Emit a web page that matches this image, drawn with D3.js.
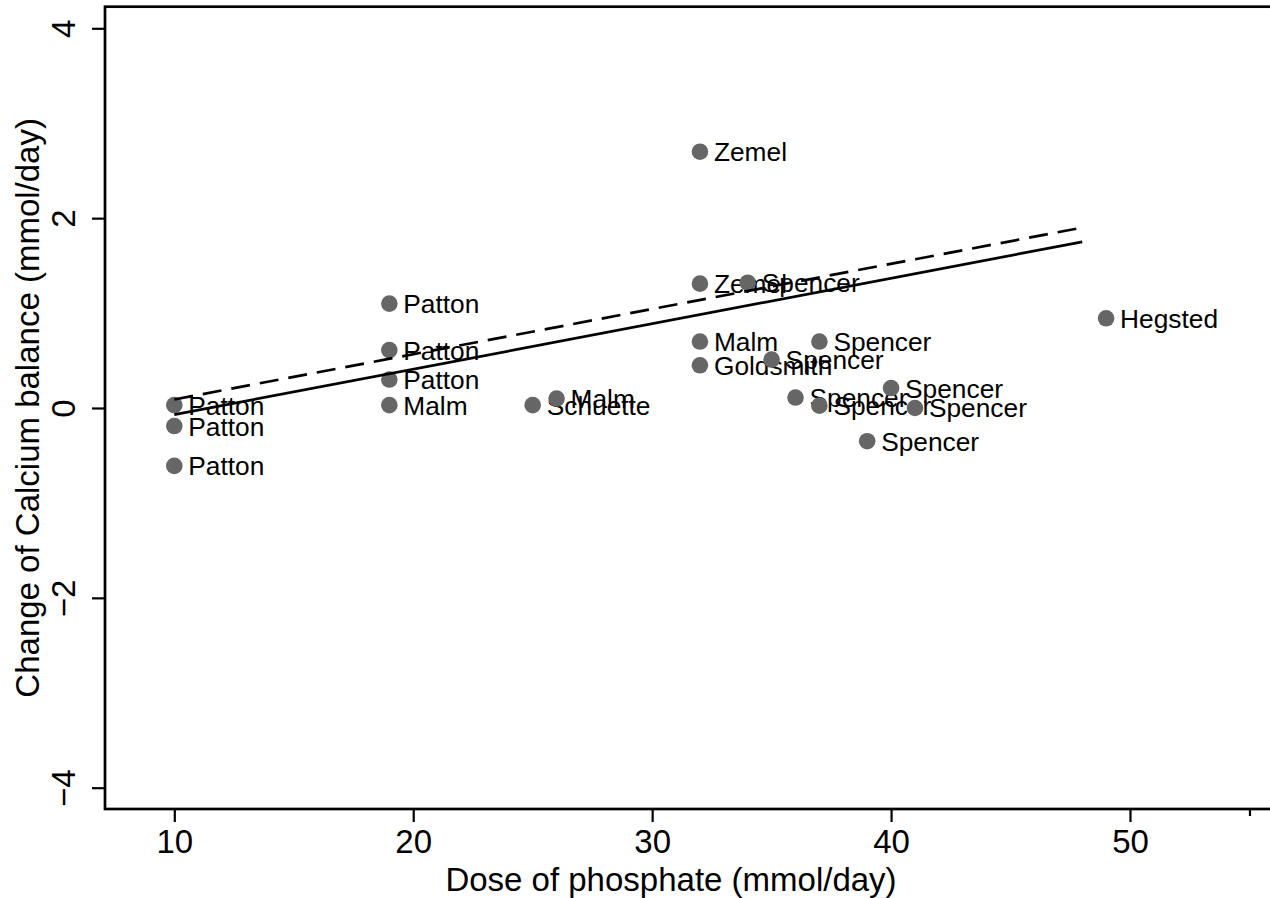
<!DOCTYPE html>
<html>
<head>
<meta charset="utf-8">
<script src="https://cdn.jsdelivr.net/npm/d3@7"></script>
<style>
  html, body { margin: 0; padding: 0; background: #fff; }
  svg { display: block; }
  text { font-family: "Liberation Sans", Arial, Helvetica, sans-serif; fill: #000; }
</style>
</head>
<body>
<svg id="chart" width="1270" height="898"></svg>
<script>
// ---- data ----
const dose   = [10, 10, 10, 19, 19, 19, 19, 25, 26, 32, 32, 32, 32, 34, 35, 36, 37, 37, 39, 40, 41, 49];
const change = [0.03, -0.19, -0.61, 1.10, 0.61, 0.30, 0.03, 0.03, 0.10, 2.70, 1.31, 0.70, 0.45, 1.32, 0.51, 0.11, 0.70, 0.025, -0.35, 0.21, 0.0, 0.945];
const study  = ["Patton", "Patton", "Patton", "Patton", "Patton", "Patton", "Malm", "Schuette", "Malm",
                "Zemel", "Zemel", "Malm", "Goldsmith", "Spencer", "Spencer", "Spencer", "Spencer", "Spencer",
                "Spencer", "Spencer", "Spencer", "Hegsted"];
const fitX       = [10, 48];
const fitSolid   = [-0.07, 1.75];
const fitDashed  = [0.09, 1.90];
const xTicks     = [10, 20, 30, 40, 50];
const xMinorTick = [55];
const yTicks     = [-4, -2, 0, 2, 4];

// ---- layout ----
const svg = d3.select("#chart");
const frame = { left: 105, top: 6.7, right: 1275, bottom: 809 };
const x = d3.scaleLinear().domain([10, 50]).range([174.3, 1130]);
const y = d3.scaleLinear().domain([-4, 4]).range([787.7, 28.3]);

const axisFont = 33, labelFont = 26.3;

// points + labels
const pts = dose.map((d, i) => ({ x: d, y: change[i], s: study[i] }));
const g = svg.append("g");
pts.forEach(p => {
  g.append("circle")
    .attr("cx", x(p.x)).attr("cy", y(p.y)).attr("r", 8.3)
    .attr("fill", "#666666");
  g.append("text")
    .attr("x", x(p.x) + 14).attr("y", y(p.y))
    .attr("dy", "0.36em")
    .attr("font-size", labelFont)
    .text(p.s);
});

// fitted lines
const line = d3.line().x(d => x(d[0])).y(d => y(d[1]));
svg.append("path")
  .attr("d", line(fitX.map((v, i) => [v, fitSolid[i]])))
  .attr("fill", "none").attr("stroke", "#000").attr("stroke-width", 2.7);
svg.append("path")
  .attr("d", line(fitX.map((v, i) => [v, fitDashed[i]])))
  .attr("fill", "none").attr("stroke", "#000").attr("stroke-width", 2.7)
  .attr("stroke-dasharray", "19,10");

// frame
svg.append("rect")
  .attr("x", frame.left).attr("y", frame.top)
  .attr("width", frame.right - frame.left).attr("height", frame.bottom - frame.top)
  .attr("fill", "none").attr("stroke", "#000").attr("stroke-width", 2.7);

// x axis
const xAxis = svg.append("g").attr("transform", `translate(0,${frame.bottom})`)
  .call(d3.axisBottom(x).tickValues(xTicks).tickSize(13).tickFormat(d3.format("d")));
xAxis.select(".domain").remove();
xAxis.selectAll(".tick line").attr("stroke", "#000").attr("stroke-width", 2.2);
xAxis.selectAll(".tick text").attr("font-size", axisFont)
  .attr("font-family", "Liberation Sans, Arial, sans-serif")
  .attr("y", 44).attr("dy", 0).attr("fill", "#000");
const xMinor = svg.append("g").attr("transform", `translate(0,${frame.bottom})`)
  .call(d3.axisBottom(x).tickValues(xMinorTick).tickSize(7).tickFormat(""));
xMinor.select(".domain").remove();
xMinor.selectAll(".tick line").attr("stroke", "#000").attr("stroke-width", 2.2);

// y axis
const yAxis = svg.append("g").attr("transform", `translate(${frame.left},0)`)
  .call(d3.axisLeft(y).tickValues(yTicks).tickSize(13)
    .tickFormat(d => d < 0 ? "\u2212" + Math.abs(d) : String(d)));
yAxis.select(".domain").remove();
yAxis.selectAll(".tick line").attr("stroke", "#000").attr("stroke-width", 2.2);
yAxis.selectAll(".tick text")
  .attr("font-size", axisFont)
  .attr("font-family", "Liberation Sans, Arial, sans-serif")
  .attr("fill", "#000")
  .attr("x", null).attr("dy", null)
  .attr("text-anchor", "middle")
  .attr("transform", "translate(-30,0) rotate(-90)")
  .attr("y", 0);

// axis titles
svg.append("text")
  .attr("x", 671).attr("y", 891)
  .attr("text-anchor", "middle").attr("font-size", axisFont)
  .text("Dose of phosphate (mmol/day)");
svg.append("text")
  .attr("transform", `translate(38.5,${(frame.top + frame.bottom) / 2}) rotate(-90)`)
  .attr("text-anchor", "middle").attr("font-size", axisFont)
  .text("Change of Calcium balance (mmol/day)");
</script>
</body>
</html>
